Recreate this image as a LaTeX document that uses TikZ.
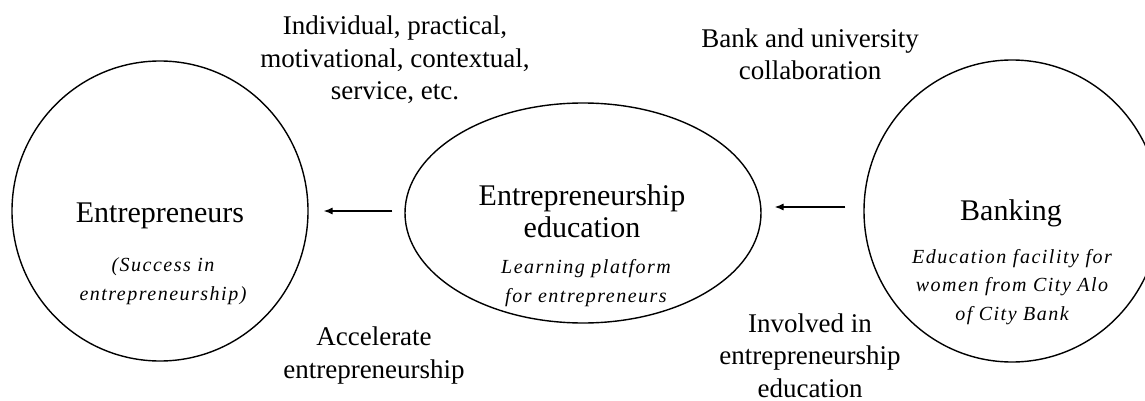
\documentclass[tikz,border=0pt]{standalone}
\usepackage{fontspec}
\setmainfont{Liberation Serif}
\newfontfamily\notefont[LetterSpace=7.5]{Liberation Serif}
\usetikzlibrary{arrows.meta,shapes.geometric}

\begin{document}
\begin{tikzpicture}[x=0.5pt,y=-0.5pt,>={Latex[length=4.5pt,width=3.6pt]},
  ring/.style={draw,ellipse,line width=0.7pt,inner sep=0pt},
  title/.style={anchor=base,align=center,font=\fontsize{15}{16}\selectfont},
  note/.style={anchor=base,align=center,font=\notefont\itshape\fontsize{10}{14.25}\selectfont},
  lbl/.style={anchor=base,align=center,font=\fontsize{13.5}{16.25}\selectfont},
  arr/.style={->,line width=0.65pt}]
\clip (0,0) rectangle (1145,401);
% the three blocks
\node[ring,minimum width=148pt,minimum height=150pt] (ent) at (160,211) {};
\node[ring,minimum width=178pt,minimum height=110pt] (edu) at (583,213) {};
\node[ring,minimum width=148pt,minimum height=151pt] (bank) at (1012,211) {};
% texts inside (base = last line)
\node[title] (entT) at (160,222) {Entrepreneurs};
\node[note] (entN) at (163,300) {(Success in\\entrepreneurship)};
\node[title] (eduT) at (582,237) {Entrepreneurship\\education};
\node[note] (eduN) at (586,302) {Learning platform\\for entrepreneurs};
\node[title] (bankT) at (1011,220) {Banking};
\node[note] (bankN) at (1012,320) {Education facility for\\women from City Alo\\of City Bank};
% side labels
\node[lbl] (kinds) at (395,100) {Individual, practical,\\motivational, contextual,\\service, etc.};
\node[lbl] (collab) at (810,80) {Bank and university\\collaboration};
\node[lbl] (accel) at (374,378) {Accelerate\\entrepreneurship};
\node[lbl] (invol) at (810,397) {Involved in\\entrepreneurship\\education};
% arrows
\draw[arr,shorten <=6pt,shorten >=7.5pt] (edu.west |- ent.east) -- (ent.east);
\draw[arr,shorten <=9pt,shorten >=6.5pt] ([yshift=2pt]bank.west) -- ([yshift=3pt]edu.east);
\end{tikzpicture}
\end{document}
